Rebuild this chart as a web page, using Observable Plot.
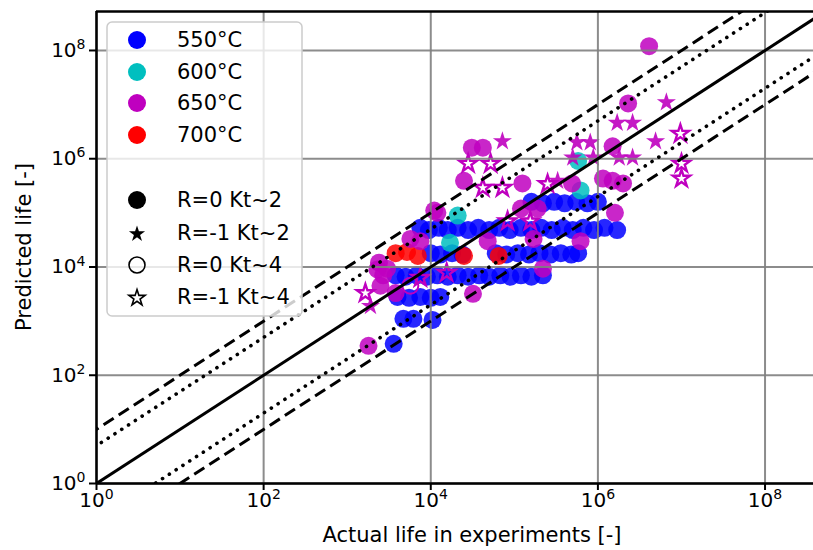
<!DOCTYPE html>
<html><head><meta charset="utf-8">
<script src="https://cdn.jsdelivr.net/npm/d3@7"></script>
<script src="https://cdn.jsdelivr.net/npm/@observablehq/plot@0.6"></script>
<style>body{margin:0;background:#fff;} svg{display:block;}</style>
</head><body><div id="chart"></div>
<script>
// ---- categories / legend ----
const temps = ["550°C", "600°C", "650°C", "700°C"];
const tempColors = ["#0000ff", "#00bfbf", "#bf00bf", "#ff0000"];
const kinds = ["R=0 Kt~2", "R=-1 Kt~2", "R=0 Kt~4", "R=-1 Kt~4"];
const xTicks = [1, 1e2, 1e4, 1e6, 1e8];
const yTicks = [1, 1e2, 1e4, 1e6, 1e8];
const xDomain = [1, 10 ** 8.58];
const yDomain = [1, 10 ** 8.72];
// scatter band lines: y = factor * x
const bandFactors = [10, 5, 1, 1 / 5, 1 / 10];
const bandStyles = ["dashed", "dotted", "solid", "dotted", "dashed"];
const lineX = [0.1, 1e10];

// ---- data: [actual life, predicted life] ----
const t550_R0_Kt2 = [
  [1.6e5, 1.6e5], [2.2e5, 1.5e5], [3.0e5, 1.6e5], [4.0e5, 1.5e5], [5.5e5, 1.6e5], [7.5e5, 1.5e5], [1.0e6, 1.6e5],
  [7.5e3, 5.3e4], [9.5e3, 4.8e4], [1.25e4, 5.3e4], [1.6e4, 4.8e4], [2.1e4, 5.3e4], [2.8e4, 4.8e4], [3.7e4, 5.3e4],
  [5.0e4, 4.8e4], [6.6e4, 5.3e4], [8.8e4, 4.8e4], [1.2e5, 5.3e4], [1.6e5, 4.8e4], [2.1e5, 5.3e4], [2.8e5, 4.8e4],
  [3.8e5, 5.3e4], [5.0e5, 4.8e4], [6.7e5, 5.3e4], [9.0e5, 4.8e4], [1.2e6, 5.3e4], [1.7e6, 4.8e4],
  [1.0e4, 1.8e4], [1.3e4, 1.7e4], [1.8e4, 1.8e4], [2.4e4, 1.7e4],
  [6.0e4, 1.8e4], [8.0e4, 1.7e4], [1.1e5, 1.8e4], [1.5e5, 1.7e4], [2.0e5, 1.8e4], [2.7e5, 1.7e4], [3.6e5, 1.8e4], [4.8e5, 1.7e4], [5.8e5, 1.8e4],
  [3.8e3, 7.0e3], [5.0e3, 6.6e3], [6.8e3, 7.0e3], [9.0e3, 6.6e3], [1.2e4, 7.0e3], [1.6e4, 6.6e3], [2.1e4, 7.0e3],
  [2.8e4, 6.6e3], [3.8e4, 7.0e3], [5.0e4, 6.6e3], [6.8e4, 7.0e3], [9.0e4, 6.6e3], [1.2e5, 7.0e3], [1.6e5, 6.6e3], [2.2e5, 7.0e3],
  [4.0e3, 2.8e3], [5.5e3, 2.7e3], [7.5e3, 2.8e3], [1.0e4, 2.7e3], [1.3e4, 2.8e3],
  [4.7e3, 1.1e3], [6.2e3, 1.1e3], [1.05e4, 1.05e3],
  [3.6e3, 380]
];
const t600_R0_Kt2 = [[2.1e4, 8.9e4], [1.7e4, 2.8e4], [6.2e5, 2.6e5], [5.8e5, 9.1e5]];
const t700_R0_Kt2 = [[3.8e3, 1.8e4], [5.2e3, 1.9e4], [7.0e3, 1.6e4], [2.5e4, 1.6e4], [6.5e4, 1.6e4]];
const t650_R0_Kt2 = [
  [4.1e6, 1.2e8], [2.3e6, 1.05e7], [1.5e6, 1.7e6], [3.1e4, 1.6e6], [4.2e4, 1.6e6], [2.5e4, 3.9e5],
  [1.25e5, 3.5e5], [4.9e5, 3.5e5], [1.15e6, 4.3e5], [1.5e6, 3.9e5], [2.0e6, 3.5e5], [1.6e6, 1.0e5],
  [1.2e4, 1.0e5], [1.1e4, 1.1e5], [5.7e3, 3.3e4], [7.5e3, 3.0e4], [3.0e3, 9.3e3], [2.7e3, 7.0e3],
  [2.4e3, 1.2e4], [2.5e3, 4.5e3], [3.8e3, 3.3e3], [3.2e4, 3.2e3], [1.8e3, 350], [2.2e5, 9.3e3],
  [6.2e5, 3.0e4], [1.7e5, 3.3e4], [1.2e5, 1.2e5], [1.9e5, 1.2e5], [4.8e4, 3.0e4], [2.3e3, 9.0e3]
];
const t650_R0_Kt4 = [[5.7e3, 4.5e3]];
const t650_Rm1_Kt2 = [
  [6.6e6, 1.1e7], [1.7e6, 4.6e6], [2.6e6, 4.6e6], [4.9e6, 2.1e6], [7.2e4, 2.1e6], [5.6e5, 2.0e6],
  [8.1e5, 2.0e6], [5.0e5, 1.05e6], [8.8e5, 1.05e6], [1.8e6, 1.05e6], [2.6e6, 1.05e6], [3.3e5, 3.9e5],
  [1.9e3, 1.9e3]
];
const t650_Rm1_Kt4 = [
  [9.7e6, 2.9e6], [1.0e7, 8.1e5], [1.0e7, 4.3e5], [2.8e4, 8.1e5], [5.2e4, 8.1e5], [4.2e4, 2.9e5],
  [7.2e4, 2.9e5], [2.5e5, 3.4e5], [8.3e4, 7.0e4], [1.55e5, 7.0e4], [7.5e3, 6.3e3], [1.55e4, 7.8e3],
  [1.65e3, 3.3e3]
];

const groups = [
  {temp: temps[0], kind: kinds[0], pts: t550_R0_Kt2},
  {temp: temps[1], kind: kinds[0], pts: t600_R0_Kt2},
  {temp: temps[3], kind: kinds[0], pts: t700_R0_Kt2},
  {temp: temps[2], kind: kinds[0], pts: t650_R0_Kt2},
  {temp: temps[2], kind: kinds[2], pts: t650_R0_Kt4},
  {temp: temps[2], kind: kinds[1], pts: t650_Rm1_Kt2},
  {temp: temps[2], kind: kinds[3], pts: t650_Rm1_Kt4}
];
const data = groups.flatMap(g => g.pts.map(([x, y]) => ({x, y, temp: g.temp, kind: g.kind})));
const ofKind = k => data.filter(d => d.kind === k);

const dash = {solid: null, dotted: "0.1,8", dashed: "12,6"};
const lineMarks = bandFactors.map((f, i) =>
  Plot.line(lineX.map(x => ({x, y: x * f})), {
    x: "x", y: "y", stroke: "black",
    strokeWidth: bandStyles[i] === "dotted" ? 3.6 : 3,
    strokeLinecap: bandStyles[i] === "dotted" ? "round" : "butt",
    strokeDasharray: dash[bandStyles[i]], clip: true
  })
);

const expFmt = d => String(Math.round(Math.log10(d)));

const svg = Plot.plot({
  width: 813, height: 550,
  marginLeft: 96, marginRight: 0, marginTop: 11, marginBottom: 67,
  style: {fontFamily: "DejaVu Sans", background: "white", color: "black"},
  x: {type: "log", domain: xDomain, axis: null},
  y: {type: "log", domain: yDomain, axis: null},
  color: {domain: temps, range: tempColors},
  marks: [
    Plot.dot(ofKind(kinds[0]), {x: "x", y: "y", r: 9, fill: "temp", fillOpacity: 0.85, clip: true}),
    Plot.dot(ofKind(kinds[2]), {x: "x", y: "y", r: 8, stroke: "temp", fill: "none", strokeWidth: 2, clip: true}),
    Plot.dot(ofKind(kinds[1]), {x: "x", y: "y", r: 6, symbol: "star", fill: "temp", fillOpacity: 0.9, clip: true}),
    Plot.dot(ofKind(kinds[3]), {x: "x", y: "y", r: 5.4, symbol: "star", stroke: "temp", fill: "none", strokeWidth: 2.4, clip: true}),
    Plot.gridX(xTicks, {stroke: "#808080", strokeOpacity: 0.9, strokeWidth: 2}),
    Plot.gridY(yTicks, {stroke: "#808080", strokeOpacity: 0.9, strokeWidth: 2}),
    ...lineMarks,
    Plot.ruleX([xDomain[0]], {stroke: "black", strokeWidth: 2.5}),
    Plot.ruleY(yDomain, {stroke: "black", strokeWidth: 2.5}),
    Plot.axisX(xTicks, {tickSize: 7, tickPadding: 2, fontSize: 20, tickFormat: expFmt, label: null, strokeWidth: 2}),
    Plot.axisY(yTicks, {tickSize: 7, tickPadding: 4, fontSize: 20, tickFormat: expFmt, label: null, strokeWidth: 2})
  ]
});

const s = d3.select(svg);
// mathtext-like 10^n tick labels
s.selectAll('g[aria-label="x-axis tick label"] text, g[aria-label="y-axis tick label"] text').each(function () {
  const e = this.textContent;
  const t = d3.select(this);
  t.text(null);
  t.append("tspan").text("10");
  t.append("tspan").attr("dy", "-0.55em").attr("font-size", "0.7em").text(e);
});

// axis titles
s.append("text").attr("x", 472).attr("y", 542).attr("text-anchor", "middle")
  .attr("font-family", "DejaVu Sans").attr("font-size", 21).attr("fill", "black")
  .text("Actual life in experiments [-]");
s.append("text").attr("transform", "translate(24,247) rotate(-90)").attr("text-anchor", "middle")
  .attr("dy", "0.35em").attr("font-family", "DejaVu Sans").attr("font-size", 21).attr("fill", "black")
  .text("Predicted life [-]");

// legend
const lg = s.append("g").attr("font-family", "DejaVu Sans").attr("font-size", 21).attr("text-anchor", "start");
lg.append("rect").attr("x", 107).attr("y", 22).attr("width", 195).attr("height", 294).attr("rx", 5)
  .attr("fill", "white").attr("fill-opacity", 0.8).attr("stroke", "#cccccc").attr("stroke-width", 1.5);
const mx = 137, tx = 177;
const rowsT = [40, 72, 103, 135];
temps.forEach((t, i) => {
  lg.append("circle").attr("cx", mx).attr("cy", rowsT[i]).attr("r", 9).attr("fill", tempColors[i]);
  lg.append("text").attr("x", tx).attr("y", rowsT[i]).attr("dy", "0.35em").attr("text-anchor", "start").attr("fill", "black").text(t);
});
const rowsK = [200, 233, 265, 297];
const starPath = rOuter => d3.symbol(d3.symbolStar, Math.PI * (rOuter / 1.673) ** 2)();
kinds.forEach((k, i) => {
  const y = rowsK[i];
  if (i === 0) lg.append("circle").attr("cx", mx).attr("cy", y).attr("r", 9).attr("fill", "black");
  if (i === 1) lg.append("path").attr("d", starPath(8.5)).attr("transform", `translate(${mx},${y + 1})`).attr("fill", "black");
  if (i === 2) lg.append("circle").attr("cx", mx).attr("cy", y).attr("r", 8).attr("fill", "none").attr("stroke", "black").attr("stroke-width", 1.6);
  if (i === 3) lg.append("path").attr("d", starPath(8.5)).attr("transform", `translate(${mx},${y + 1})`).attr("fill", "none").attr("stroke", "black").attr("stroke-width", 1.6);
  lg.append("text").attr("x", tx).attr("y", y).attr("dy", "0.35em").attr("text-anchor", "start").attr("fill", "black").text(k);
});

document.getElementById("chart").appendChild(svg);
</script></body></html>
